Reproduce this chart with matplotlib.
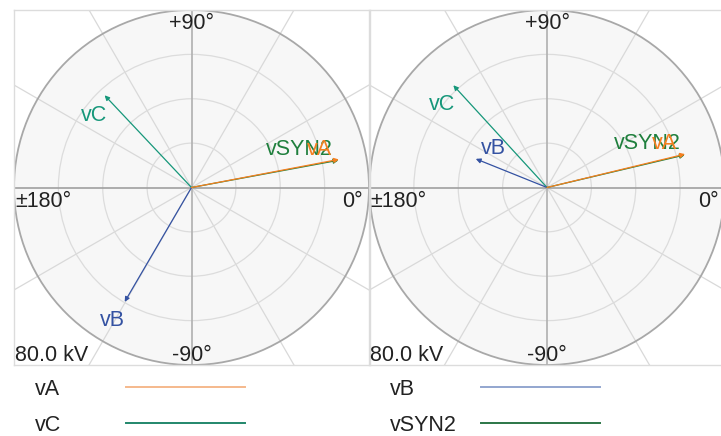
import numpy as np
import matplotlib
matplotlib.use("Agg")
import matplotlib.pyplot as plt
from matplotlib.lines import Line2D
from matplotlib.patches import Circle

plt.rcParams['font.family'] = ['Liberation Sans', 'DejaVu Sans']

# ---------------- data ----------------
series = ["vA", "vB", "vC", "vSYN2"]
left_mag = [67.6, 59.7, 57.1, 67.3]      # kV
left_ang = [10.8, -120.3, 133.3, 10.5]   # degrees
right_mag = [64.0, 34.6, 62.5, 63.8]
right_ang = [13.6, 158.1, 132.5, 13.3]
scale_kv = 80.0
ring_step = 20.0
angle_labels = ["+90°", "-90°", "±180°", "0°"]
scale_label = "80.0 kV"

# ---------------- styles ----------------
colors = {"vA": "#f47f20", "vB": "#3452a2", "vC": "#16977a", "vSYN2": "#1f7f3d"}
legend_colors = {"vA": "#f5b98c", "vB": "#93a6cf", "vC": "#21876b", "vSYN2": "#2b7646"}
draw_order = ["vC", "vB", "vSYN2", "vA"]
# label centre offsets in screen pixels (dx, dy_down) relative to arrow tip
left_lbl_ofs = {"vA": (-19.5, -11.5), "vB": (-12, 16.5), "vC": (-11, 18.5), "vSYN2": (-38.5, -12.5)}
right_lbl_ofs = {"vA": (-21, -12.3), "vB": (18, -12), "vC": (-11, 17), "vSYN2": (-37, -13)}

W, H = 721, 436
FS = 15.5
TXT = "#222222"

fig = plt.figure(figsize=(W / 100, H / 100), dpi=100)


def make_panel(x0px, mags, angs, lbl_ofs):
    size = 355
    ax = fig.add_axes([x0px / W, (H - 10 - size) / H, size / W, size / H])
    R = scale_kv
    ax.set_xlim(-R, R)
    ax.set_ylim(-R, R)
    ax.set_xticks([])
    ax.set_yticks([])
    for s in ax.spines.values():
        s.set_color("#dcdcdc")
        s.set_linewidth(1.0)
    ax.set_facecolor("white")
    ax.add_patch(Circle((0, 0), R, facecolor="#f7f7f7", edgecolor="none", zorder=0))
    # spokes every 30 degrees, extend to box edge
    for a in range(0, 360, 30):
        if a % 90 == 0:
            continue
        t = np.deg2rad(a)
        ax.plot([0, 3 * R * np.cos(t)], [0, 3 * R * np.sin(t)], color="#d9d9d9", lw=0.9, zorder=1)
    # rings
    for r in np.arange(ring_step, R, ring_step):
        ax.add_patch(Circle((0, 0), r, facecolor="none", edgecolor="#dcdcdc", lw=0.9, zorder=1))
    # main axes
    ax.plot([-R, R], [0, 0], color="#a0a0a0", lw=1.2, zorder=2)
    ax.plot([0, 0], [-R, R], color="#b0b0b0", lw=1.2, zorder=2)
    ax.add_patch(Circle((0, 0), R, facecolor="none", edgecolor="#a8a8a8", lw=1.3, zorder=2))

    # angle labels
    ax.annotate(angle_labels[0], (0, R), xytext=(0, -3), textcoords="offset pixels",
                ha="center", va="top", fontsize=FS, color=TXT, zorder=6)
    ax.annotate(angle_labels[1], (0, -R), xytext=(0, 4), textcoords="offset pixels",
                ha="center", va="baseline", fontsize=FS, color=TXT, zorder=6)
    ax.annotate(angle_labels[2], (-R, 0), xytext=(1, -3), textcoords="offset pixels",
                ha="left", va="top", fontsize=FS, color=TXT, zorder=6)
    ax.annotate(angle_labels[3], (R, 0), xytext=(-6, -3), textcoords="offset pixels",
                ha="right", va="top", fontsize=FS, color=TXT, zorder=6)
    ax.annotate(scale_label, (0, 0), xycoords="axes fraction", xytext=(1, 4),
                textcoords="offset pixels", ha="left", va="baseline", fontsize=FS, color=TXT, zorder=6)

    for k, name in enumerate(draw_order):
        i = series.index(name)
        t = np.deg2rad(angs[i])
        x, y = mags[i] * np.cos(t), mags[i] * np.sin(t)
        ax.annotate("", xy=(x, y), xytext=(0, 0),
                    arrowprops=dict(arrowstyle="-|>", color=colors[name], lw=0.9,
                                    mutation_scale=7, shrinkA=0, shrinkB=0),
                    zorder=3 + k * 0.1)
        dx, dy = lbl_ofs[name]
        ax.annotate(name, (x, y), xytext=(dx, -dy - 7.5), textcoords="offset pixels",
                    ha="center", va="baseline", fontsize=FS, color=colors[name], zorder=5 + k * 0.1)
    return ax


make_panel(14, left_mag, left_ang, left_lbl_ofs)
make_panel(369.5, right_mag, right_ang, right_lbl_ofs)

# legend (two columns, label then line)
leg_rows = [("vA", 0, 0), ("vB", 1, 0), ("vC", 0, 1), ("vSYN2", 1, 1)]
col_text_x = [35, 390]
col_line_x = [(126, 245), (481, 600)]
row_y = [387, 423]
for name, c, r in leg_rows:
    yy = (H - row_y[r]) / H
    fig.text(col_text_x[c] / W, yy - 7.5 / H, name, ha="left", va="baseline", fontsize=FS, color=TXT)
    x1, x2 = col_line_x[c]
    fig.add_artist(Line2D([x1 / W, x2 / W], [yy, yy], transform=fig.transFigure,
                          color=legend_colors[name], lw=1.4))

fig.savefig("out.png", dpi=100)
